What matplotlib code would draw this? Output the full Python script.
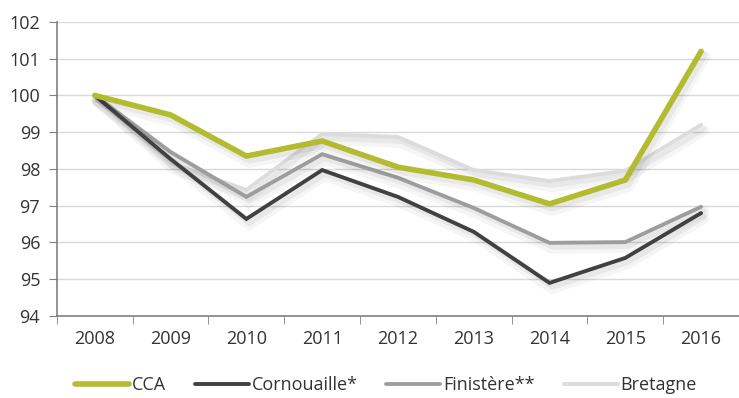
import matplotlib.pyplot as plt
import matplotlib.patheffects as pe
from matplotlib.ticker import FixedLocator

years = ["2008", "2009", "2010", "2011", "2012", "2013", "2014", "2015", "2016"]
cca = [100.0, 99.47, 98.35, 98.76, 98.05, 97.7, 97.05, 97.7, 101.2]
cornouaille = [100.0, 98.27, 96.64, 97.97, 97.24, 96.29, 94.9, 95.58, 96.8]
finistere = [100.0, 98.46, 97.24, 98.4, 97.76, 96.94, 95.99, 96.01, 96.97]
bretagne = [100.0, 98.16, 97.43, 98.95, 98.87, 97.97, 97.67, 97.95, 99.2]

plt.rcParams["font.family"] = ["Open Sans", "DejaVu Sans"]

fig = plt.figure(figsize=(7.39, 3.98), dpi=100)
ax = fig.add_axes([0.077, 0.206, 0.923, 0.739])

x = list(range(len(years)))

series = [
    ("Bretagne", bretagne, "#dcdcdc", 2.8),
    ("Finistère**", finistere, "#9d9d9d", 2.8),
    ("Cornouaille*", cornouaille, "#414143", 2.8),
    ("CCA", cca, "#b3bb2f", 4.0),
]
handles = {}
for name, vals, color, lw in series:
    # soft drop shadow: a couple of wide, faint copies under the line
    shadow = [pe.SimpleLineShadow(offset=(2, -4), shadow_color="black", alpha=0.04, linewidth=lw + 5),
              pe.SimpleLineShadow(offset=(2, -3), shadow_color="black", alpha=0.05, linewidth=lw + 1),
              pe.Normal()]
    ax.plot(x, vals, color=color, lw=lw, solid_joinstyle="miter",
            solid_capstyle="round", path_effects=shadow)
    handles[name] = plt.Line2D([], [], color=color, lw=lw, solid_capstyle="round")

ax.set_xlim(-0.5, 8.5)
ax.set_ylim(94, 102)
ax.set_yticks(range(94, 103))
ax.set_xticks(x)
ax.set_xticklabels(years)
ax.xaxis.set_minor_locator(FixedLocator([i - 0.5 for i in range(len(years))]))
ax.tick_params(axis="x", which="major", length=0, pad=10, labelsize=13, labelcolor="#333333")
ax.tick_params(axis="x", which="minor", length=6, color="#808080")
ax.tick_params(axis="y", length=6, color="#808080", labelsize=13, labelcolor="#333333", pad=6)

ax.grid(axis="y", color="#d9d9d9", lw=1)
ax.set_axisbelow(True)
for side in ["top", "right"]:
    ax.spines[side].set_visible(False)
for side in ["left", "bottom"]:
    ax.spines[side].set_color("#808080")
    ax.spines[side].set_linewidth(1.2)

order = ["CCA", "Cornouaille*", "Finistère**", "Bretagne"]
fig.legend([handles[n] for n in order], order, loc="center", bbox_to_anchor=(0.522, 0.033),
           ncol=4, frameon=False, fontsize=13, handlelength=3.0, handletextpad=0.15,
           columnspacing=1.6, labelcolor="#333333")

fig.savefig("out.png", dpi=100)
